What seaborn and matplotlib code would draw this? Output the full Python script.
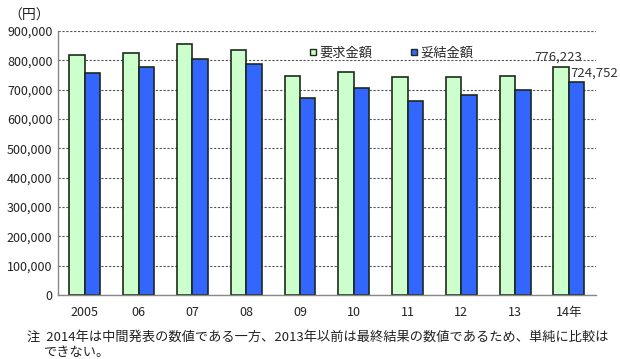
import matplotlib
matplotlib.use("Agg")
import matplotlib.pyplot as plt
import seaborn as sns
import pandas as pd
from matplotlib.lines import Line2D
from matplotlib.ticker import FuncFormatter, MultipleLocator

categories = ["2005", "06", "07", "08", "09", "10", "11", "12", "13", "14年"]
demand = [819000, 824000, 855700, 835200, 747700, 760200, 744300, 744300, 746600, 776223]
settled = [757900, 776200, 805600, 787500, 671600, 705700, 661400, 680700, 698900, 724752]
series_names = ["要求金額", "妥結金額"]
colors = ["#CCFFCC", "#3366FF"]

df = pd.DataFrame({
    "year": categories * 2,
    "value": demand + settled,
    "series": [series_names[0]] * len(categories) + [series_names[1]] * len(categories),
})

sns.set_theme(style="white")
plt.rcParams["font.family"] = ["Noto Sans CJK JP", "DejaVu Sans"]

fig = plt.figure(figsize=(6.2, 3.59), dpi=100)
ax = fig.add_axes([0.0935, 0.178, 0.8675, 0.7356])

sns.barplot(data=df, x="year", y="value", hue="series", palette=colors,
            order=categories, hue_order=series_names, width=0.575,
            edgecolor="#1c2b1c", linewidth=1.2, ax=ax, legend=False, saturation=1)

ax.set_xlim(-0.5, 9.5)
ax.set_ylim(0, 900000)
ax.yaxis.set_major_locator(MultipleLocator(100000))
ax.yaxis.set_major_formatter(FuncFormatter(lambda v, p: f"{int(v):,}"))
ax.grid(axis="y", color="#555555", linestyle=(0, (2, 1.5)), linewidth=0.8)
ax.set_axisbelow(True)
for s in ["top", "right"]:
    ax.spines[s].set_visible(False)
for s in ["left", "bottom"]:
    ax.spines[s].set_color("#888888")
    ax.spines[s].set_linewidth(1.0)
ax.set_xlabel("")
ax.set_ylabel("")
ax.tick_params(axis="y", labelsize=9, colors="#222222", length=0, pad=4)
ax.tick_params(axis="x", labelsize=9, colors="#222222", length=0, pad=8)
ax.set_xticks(range(len(categories)))
ax.set_xticklabels(categories)
ax.set_xticks([i + 0.5 for i in range(len(categories))], minor=True)
ax.tick_params(axis="x", which="minor", direction="in", length=4, color="#888888", width=1)

# value labels for latest year
ax.text(len(categories) - 1 - 0.2, 811000, f"{demand[-1]:,}",
        ha="center", va="center", fontsize=9.5, color="#333333")
ax.text(len(categories) - 1 + 0.02, 757000, f"{settled[-1]:,}",
        ha="left", va="center", fontsize=9.5, color="#333333", clip_on=False)

handles = [Line2D([0], [0], marker="s", linestyle="", markersize=5,
                  markerfacecolor=c, markeredgecolor="#1c2b1c", markeredgewidth=1.0)
           for c in colors]
ax.legend(handles, series_names, loc="upper left", bbox_to_anchor=(0.44, 0.985),
          ncol=2, frameon=False, fontsize=9.5, handletextpad=0.0, columnspacing=2.6,
          handlelength=1.0)

fig.text(0.014, 0.975, "（円）", fontsize=10, ha="left", va="top", color="#222222")
fig.text(0.043, 0.061, "注  2014年は中間発表の数値である一方、2013年以前は最終結果の数値であるため、単純に比較は",
         fontsize=9.5, ha="left", va="center", color="#222222")
fig.text(0.071, 0.019, "できない。", fontsize=9.5, ha="left", va="center", color="#222222")

fig.savefig("out.png", dpi=100)
